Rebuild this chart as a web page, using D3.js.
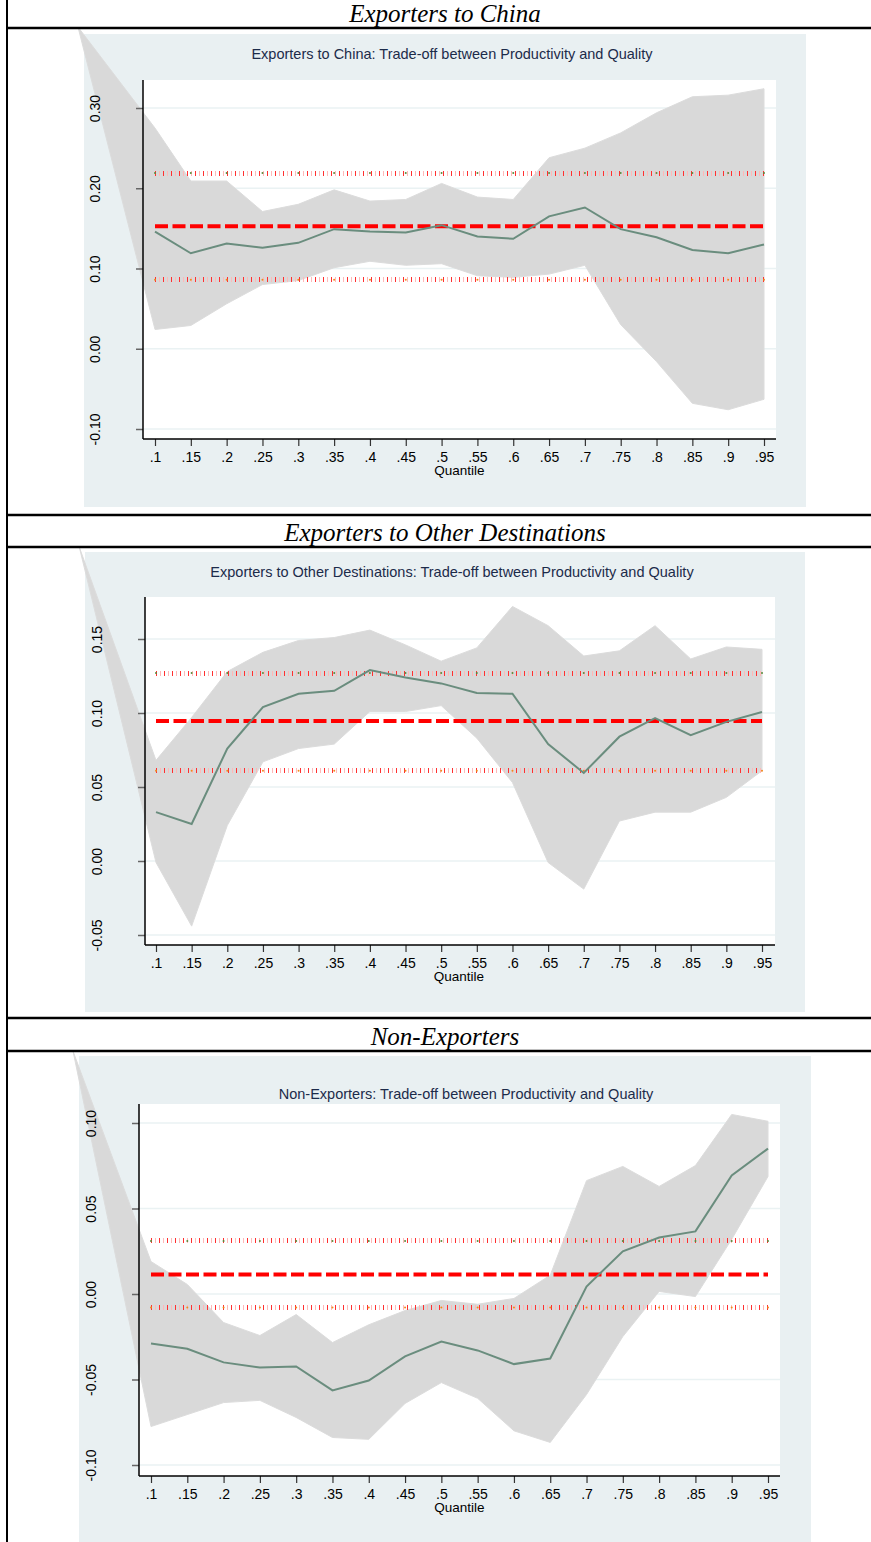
<!DOCTYPE html>
<html>
<head>
<meta charset="utf-8">
<script src="https://cdn.jsdelivr.net/npm/d3@7"></script>
<style>
  body { margin: 0; background: #fff; }
  svg { display: block; }
</style>
</head>
<body>
<svg id="chart" width="871" height="1542"></svg>
<script>
// quantiles on the x axis
const quantiles = [.1, .15, .2, .25, .3, .35, .4, .45, .5, .55, .6, .65, .7, .75, .8, .85, .9, .95];

// Exporters to China
const chinaEst   = [0.146, 0.119, 0.131, 0.126, 0.132, 0.149, 0.146, 0.145, 0.154, 0.140, 0.137, 0.165, 0.176, 0.149, 0.139, 0.123, 0.119, 0.130];
const chinaUpper = [0.275, 0.209, 0.209, 0.171, 0.180, 0.198, 0.184, 0.186, 0.206, 0.189, 0.186, 0.238, 0.250, 0.269, 0.294, 0.314, 0.316, 0.324];
const chinaLower = [0.024, 0.029, 0.056, 0.080, 0.085, 0.101, 0.109, 0.104, 0.106, 0.091, 0.089, 0.093, 0.104, 0.030, -0.016, -0.068, -0.076, -0.063];
const chinaRef   = [0.086, 0.1525, 0.219];   // lower, mean, upper
const chinaApex  = [-0.0075, 0.401];
const chinaTicks = [-0.1, 0, 0.1, 0.2, 0.3];

// Exporters to Other Destinations
const otherEst   = [0.033, 0.025, 0.076, 0.104, 0.113, 0.115, 0.129, 0.124, 0.120, 0.1135, 0.113, 0.079, 0.0595, 0.084, 0.0966, 0.085, 0.094, 0.1007];
const otherUpper = [0.068, 0.097, 0.128, 0.141, 0.149, 0.151, 0.156, 0.146, 0.135, 0.144, 0.172, 0.159, 0.1385, 0.142, 0.159, 0.1365, 0.1446, 0.143];
const otherLower = [-0.001, -0.044, 0.024, 0.067, 0.076, 0.079, 0.101, 0.101, 0.105, 0.083, 0.053, -0.001, -0.019, 0.027, 0.033, 0.033, 0.043, 0.061];
const otherRef   = [0.061, 0.0946, 0.127];
const otherApex  = [-0.0075, 0.212];
const otherTicks = [-0.05, 0, 0.05, 0.1, 0.15];

// Non-Exporters
const nonEst   = [-0.029, -0.032, -0.040, -0.043, -0.0424, -0.0564, -0.0506, -0.0365, -0.0278, -0.033, -0.041, -0.0377, 0.0044, 0.025, 0.033, 0.0366, 0.0693, 0.085];
const nonUpper = [0.019, 0.0056, -0.0167, -0.0243, -0.012, -0.0284, -0.018, -0.0097, -0.0038, -0.006, -0.0026, 0.011, 0.0663, 0.0746, 0.0629, 0.0751, 0.105, 0.101];
const nonLower = [-0.0775, -0.0705, -0.0635, -0.0622, -0.0722, -0.0839, -0.085, -0.064, -0.0518, -0.061, -0.080, -0.0868, -0.0588, -0.0249, 0.0015, -0.0015, 0.032, 0.0687];
const nonRef   = [-0.0079, 0.0114, 0.031];
const nonApex  = [-0.0074, 0.142];
const nonTicks = [-0.1, -0.05, 0, 0.05, 0.1];

const headers = ["Exporters to China", "Exporters to Other Destinations", "Non-Exporters"];
const titles = [
    "Exporters to China: Trade-off between Productivity and Quality",
    "Exporters to Other Destinations: Trade-off between Productivity and Quality",
    "Non-Exporters: Trade-off between Productivity and Quality"
];

// layout of each panel (pixels)
const layouts = [
    {bg: [84, 34, 806, 507], plot: [143, 80, 776, 439], xr: [155, 764], yr: [429, 108], yd: [-0.1, 0.3], titleY: 59, titleX: 452},
    {bg: [85, 552, 805, 1012], plot: [145, 597, 775, 945], xr: [156, 762], yr: [935, 639], yd: [-0.05, 0.15], titleY: 577, titleX: 452},
    {bg: [79, 1056, 811, 1542], plot: [139, 1104, 780, 1476], xr: [151, 768], yr: [1465, 1123], yd: [-0.1, 0.1], titleY: 1099, titleX: 466}
];

const series = [
    {est: chinaEst, upper: chinaUpper, lower: chinaLower, ref: chinaRef, apex: chinaApex, ticks: chinaTicks},
    {est: otherEst, upper: otherUpper, lower: otherLower, ref: otherRef, apex: otherApex, ticks: otherTicks},
    {est: nonEst, upper: nonUpper, lower: nonLower, ref: nonRef, apex: nonApex, ticks: nonTicks}
];

const sans = '"Liberation Sans", Arial, sans-serif';
const svg = d3.select('#chart');

// table header rows
const headerRows = [[0, 28], [515, 547], [1018, 1051]];
headerRows.forEach((r, i) => {
    svg.append('text')
        .attr('x', 445)
        .attr('y', r[1] - 6)
        .attr('text-anchor', 'middle')
        .style('font-family', '"Liberation Serif", "Times New Roman", serif')
        .style('font-style', 'italic')
        .style('font-size', '25px')
        .text(headers[i]);
});

const cellBounds = [[28, 515], [547, 1018], [1051, 1542]];

const fmtX = d => String(d).replace(/^0/, '');
const fmtY = d => d.toFixed(2);

layouts.forEach((L, i) => {
    const s = series[i];
    const clipId = 'cell' + i;
    svg.append('clipPath').attr('id', clipId)
        .append('rect')
        .attr('x', 8).attr('y', cellBounds[i][0])
        .attr('width', 863).attr('height', cellBounds[i][1] - cellBounds[i][0]);

    const g = svg.append('g').attr('clip-path', `url(#${clipId})`);

    const x = d3.scaleLinear().domain([.1, .95]).range(L.xr);
    const y = d3.scaleLinear().domain(L.yd).range(L.yr);

    // graph background and plot region
    g.append('rect')
        .attr('x', L.bg[0]).attr('y', L.bg[1])
        .attr('width', L.bg[2] - L.bg[0]).attr('height', L.bg[3] - L.bg[1])
        .attr('fill', '#e9f0f2');
    g.append('rect')
        .attr('x', L.plot[0]).attr('y', L.plot[1])
        .attr('width', L.plot[2] - L.plot[0]).attr('height', L.plot[3] - L.plot[1])
        .attr('fill', '#ffffff');

    // gridlines
    g.selectAll('.grid')
        .data(s.ticks)
        .join('line')
            .attr('x1', L.plot[0]).attr('x2', L.plot[2])
            .attr('y1', d => y(d)).attr('y2', d => y(d))
            .attr('stroke', '#eaf2f3')
            .attr('stroke-width', 1.5);

    // title
    g.append('text')
        .attr('x', L.titleX).attr('y', L.titleY)
        .attr('text-anchor', 'middle')
        .style('font-family', sans)
        .style('font-size', '14.5px')
        .attr('fill', '#1c2b4a')
        .text(titles[i]);

    // confidence band, with the stray vertex Stata left at the corner
    const bandPts = [s.apex]
        .concat(quantiles.map((q, k) => [q, s.upper[k]]))
        .concat(quantiles.map((q, k) => [q, s.lower[k]]).reverse());
    g.append('path')
        .datum(bandPts)
        .attr('d', d3.line().x(d => x(d[0])).y(d => y(d[1])).curve(d3.curveLinearClosed))
        .attr('fill', '#d9d9d9')
        .attr('stroke', '#dcdcdc')
        .attr('stroke-width', 1);

    // dotted reference lines (lower / upper)
    [s.ref[0], s.ref[2]].forEach((v, k) => {
        const x0 = Math.round(x(.1));
        g.append('line')
            .attr('x1', x0).attr('x2', x(.95))
            .attr('y1', y(v)).attr('y2', y(v))
            .attr('stroke', '#ffb8b8')
            .attr('stroke-width', 5)
            .attr('stroke-dasharray', '1,3')
            .attr('shape-rendering', 'crispEdges');
        g.append('line')
            .attr('x1', x0).attr('x2', x(.95))
            .attr('y1', y(v)).attr('y2', y(v))
            .attr('stroke', '#ff3030')
            .attr('stroke-width', 5)
            .attr('stroke-dasharray', '1,7')
            .attr('shape-rendering', 'crispEdges');
        g.selectAll('.mk' + k)
            .data(quantiles)
            .join('circle')
                .attr('cx', d => x(d)).attr('cy', y(v))
                .attr('r', 1)
                .attr('fill', k === 0 ? '#f08a1c' : '#5a8a3a');
    });

    // dashed mean line
    g.append('line')
        .attr('x1', x(.1)).attr('x2', x(.95))
        .attr('y1', y(s.ref[1])).attr('y2', y(s.ref[1]))
        .attr('stroke', '#ff0000')
        .attr('stroke-width', 4)
        .attr('stroke-dasharray', '13,4.5');

    // point estimates
    g.append('path')
        .datum(s.est)
        .attr('d', d3.line().x((d, k) => x(quantiles[k])).y(d => y(d)))
        .attr('fill', 'none')
        .attr('stroke', '#6a8d7e')
        .attr('stroke-width', 2);

    // axes
    const yAxis = g.append('g')
        .attr('transform', `translate(${L.plot[0]},0)`)
        .call(d3.axisLeft(y).tickValues(s.ticks).tickSize(7).tickFormat(fmtY));
    yAxis.select('.domain').remove();
    yAxis.selectAll('.tick line').attr('stroke', '#666').attr('stroke-width', 1.5);
    yAxis.selectAll('.tick text')
        .attr('x', null)
        .attr('transform', 'translate(-48,0) rotate(-90)')
        .attr('text-anchor', 'middle')
        .attr('dy', '0.35em')
        .style('font-family', sans)
        .style('font-size', '14px')
        .attr('fill', '#000');

    const xAxis = g.append('g')
        .attr('transform', `translate(0,${L.plot[3]})`)
        .call(d3.axisBottom(x).tickValues(quantiles).tickSize(7).tickFormat(fmtX));
    xAxis.select('.domain').remove();
    xAxis.selectAll('.tick line').attr('stroke', '#333').attr('stroke-width', 1.2);
    xAxis.selectAll('.tick text')
        .attr('y', 13)
        .style('font-family', sans)
        .style('font-size', '14px')
        .attr('fill', '#000');

    g.append('line')
        .attr('x1', L.plot[0]).attr('x2', L.plot[0])
        .attr('y1', L.plot[1]).attr('y2', L.plot[3])
        .attr('stroke', '#000').attr('stroke-width', 1.5);
    g.append('line')
        .attr('x1', L.plot[0]).attr('x2', L.plot[2])
        .attr('y1', L.plot[3]).attr('y2', L.plot[3])
        .attr('stroke', '#000').attr('stroke-width', 1.5);

    g.append('text')
        .attr('x', (x(.5) + x(.55)) / 2)
        .attr('y', L.plot[3] + 36)
        .attr('text-anchor', 'middle')
        .style('font-family', sans)
        .style('font-size', '13.5px')
        .text('Quantile');
});

// table borders
[28, 515, 547, 1018, 1051].forEach(yy => {
    svg.append('line')
        .attr('x1', 6).attr('x2', 871)
        .attr('y1', yy).attr('y2', yy)
        .attr('stroke', '#000').attr('stroke-width', 2.5);
});
svg.append('line')
    .attr('x1', 7).attr('x2', 7)
    .attr('y1', 0).attr('y2', 1542)
    .attr('stroke', '#000').attr('stroke-width', 2);
</script>
</body>
</html>
